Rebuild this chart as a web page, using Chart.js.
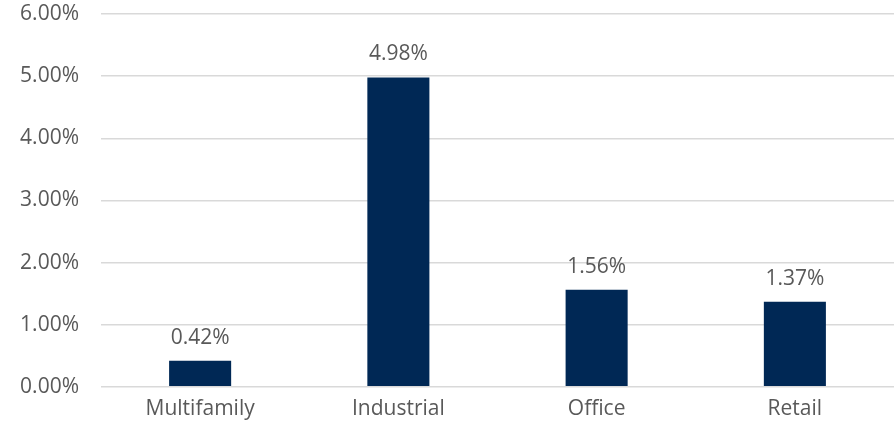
<!DOCTYPE html>
<html>
<head>
<meta charset="utf-8">
<script src="https://cdn.jsdelivr.net/npm/chart.js@4.4.1/dist/chart.umd.min.js"></script>
<style>
  html, body { margin: 0; padding: 0; background: #fff; }
  #wrap { width: 896px; height: 430px; position: relative; }
</style>
</head>
<body>
<div id="wrap"><canvas id="chart"></canvas></div>
<script>
const categories = ['Multifamily', 'Industrial', 'Office', 'Retail'];
const values = [0.42, 4.98, 1.56, 1.37];
const yTicks = [0, 1, 2, 3, 4, 5, 6];

const textColor = '#595959';
const fontFamily = "'Open Sans', 'Noto Sans', sans-serif";

// draws the value labels above each bar
const valueLabels = {
  id: 'valueLabels',
  afterDatasetsDraw(chart) {
    const { ctx } = chart;
    const meta = chart.getDatasetMeta(0);
    ctx.save();
    ctx.font = '21px ' + fontFamily;
    ctx.fillStyle = textColor;
    ctx.textAlign = 'center';
    ctx.textBaseline = 'middle';
    meta.data.forEach((bar, i) => {
      ctx.fillText(values[i].toFixed(2) + '%', bar.x, bar.y - 23);
    });
    ctx.restore();
  }
};

new Chart(document.getElementById('chart'), {
  type: 'bar',
  data: {
    labels: categories,
    datasets: [{
      data: values,
      backgroundColor: '#002855',
      barPercentage: 0.313,
      categoryPercentage: 1.0
    }]
  },
  options: {
    responsive: true,
    maintainAspectRatio: false,
    animation: false,
    layout: { padding: { top: 14, right: 2, bottom: -2, left: 0 } },
    plugins: {
      legend: { display: false },
      tooltip: { enabled: false }
    },
    scales: {
      x: {
        grid: { display: false, drawTicks: false },
        border: { display: false },
        ticks: {
          color: textColor,
          padding: 10,
          font: { size: 21, family: fontFamily }
        }
      },
      y: {
        min: 0,
        max: 6,
        afterBuildTicks(scale) {
          scale.ticks = yTicks.map(v => ({ value: v }));
        },
        afterFit(scale) {
          scale.width = 101;
          scale.paddingTop = 0;
          scale.paddingBottom = 0;
        },
        grid: { color: '#d9d9d9', lineWidth: 1.5, drawTicks: false },
        border: { display: false },
        ticks: {
          color: textColor,
          padding: 22,
          font: { size: 21, family: fontFamily },
          callback: v => v.toFixed(2) + '%'
        }
      }
    }
  },
  plugins: [valueLabels]
});
</script>
</body>
</html>
